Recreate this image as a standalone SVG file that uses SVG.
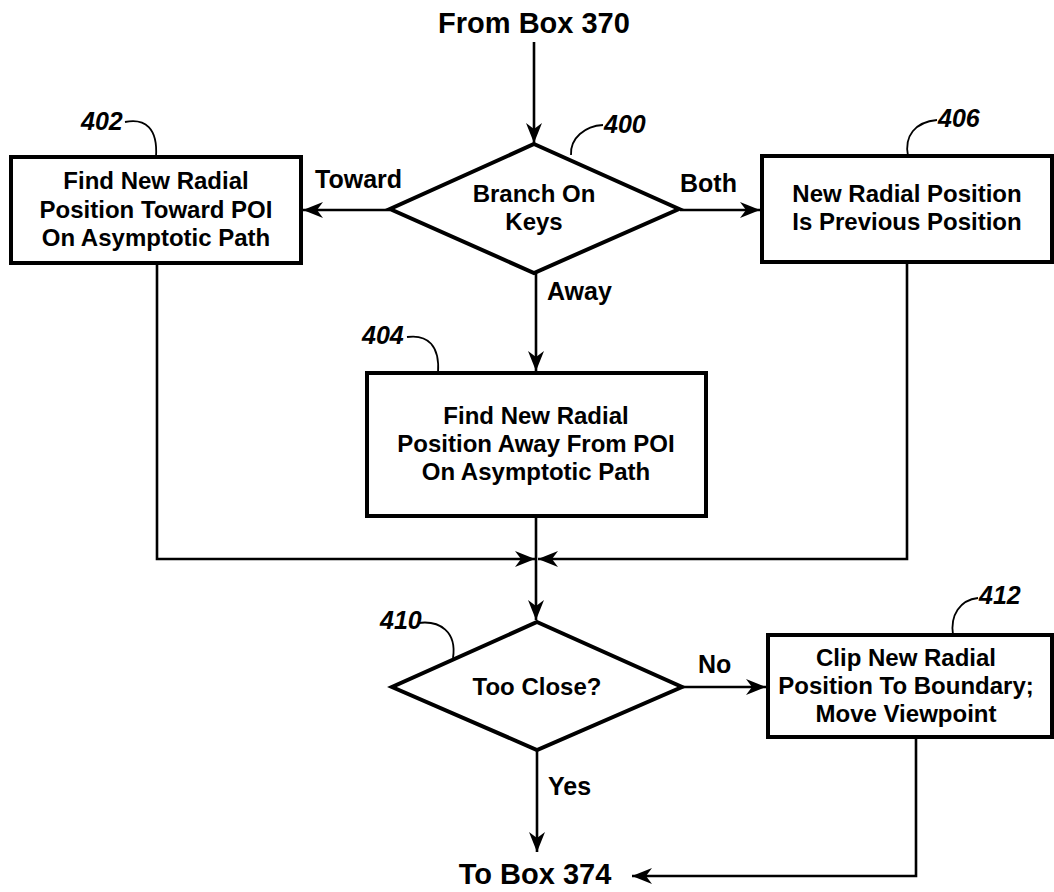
<svg xmlns="http://www.w3.org/2000/svg" width="1054" height="892" viewBox="0 0 1054 892">
<style>
.box{fill:#fff;stroke:#000;stroke-width:4}
.dia{fill:#fff;stroke:#000;stroke-width:4}
.ln{fill:none;stroke:#000;stroke-width:2.6}
.ld{fill:none;stroke:#000;stroke-width:1.8}
.t{font-family:"Liberation Sans",Arial,sans-serif;font-weight:bold;font-size:24px;text-anchor:middle;fill:#000}
.big{font-family:"Liberation Sans",Arial,sans-serif;font-weight:bold;font-size:29px;text-anchor:middle;fill:#000}
.lab{font-family:"Liberation Sans",Arial,sans-serif;font-weight:bold;font-size:25px;fill:#000}
.ref{font-family:"Liberation Sans",Arial,sans-serif;font-weight:bold;font-style:italic;font-size:25px;fill:#000}
</style>
<defs>
<marker id="ah" viewBox="0 0 20 16" refX="20" refY="8" markerWidth="20" markerHeight="16" orient="auto" markerUnits="userSpaceOnUse">
<path d="M0,0 L20,8 L0,16 L6,8 z" fill="#000"/>
</marker>
</defs>
<rect width="1054" height="892" fill="#fff"/>
<text class="big" x="534" y="33">From Box 370</text>
<text class="big" x="535" y="884">To Box 374</text>

<g id="connectors">
<line class="ln" x1="534" y1="42" x2="534" y2="143" marker-end="url(#ah)"/>
<line class="ln" x1="390" y1="210" x2="303" y2="210" marker-end="url(#ah)"/>
<line class="ln" x1="680" y1="210" x2="760" y2="210" marker-end="url(#ah)"/>
<line class="ln" x1="536" y1="273" x2="536" y2="371" marker-end="url(#ah)"/>
<polyline class="ln" points="157,263 157,559 535,559" marker-end="url(#ah)"/>
<polyline class="ln" points="907,262 907,559 538,559" marker-end="url(#ah)"/>
<line class="ln" x1="536" y1="516" x2="536" y2="620" marker-end="url(#ah)"/>
<line class="ln" x1="682" y1="687" x2="766" y2="687" marker-end="url(#ah)"/>
<line class="ln" x1="537" y1="750" x2="537" y2="852" marker-end="url(#ah)"/>
<polyline class="ln" points="916,737 916,876 632,876" marker-end="url(#ah)"/>
<text class="lab" x="315" y="188">Toward</text>
<text class="lab" x="680" y="192">Both</text>
<text class="lab" x="547" y="300">Away</text>
<text class="lab" x="698" y="673">No</text>
<text class="lab" x="548" y="795">Yes</text>
</g>

<g id="n400">
<polygon class="dia" points="534,144 679,209 534,273 390,209"/>
<text class="t" x="534" y="202">Branch On</text>
<text class="t" x="534" y="230">Keys</text>
<path class="ld" d="M571,155 C570,138 585,126 603,125"/>
<text class="ref" x="604" y="133">400</text>
</g>

<g id="n402">
<rect class="box" x="11" y="157" width="290" height="106"/>
<text class="t" x="156" y="189">Find New Radial</text>
<text class="t" x="156" y="218">Position Toward POI</text>
<text class="t" x="156" y="246">On Asymptotic Path</text>
<path class="ld" d="M125,122 C145,118 158,128 156,157"/>
<text class="ref" x="81" y="130">402</text>
</g>

<g id="n406">
<rect class="box" x="762" y="156" width="290" height="106"/>
<text class="t" x="907" y="202">New Radial Position</text>
<text class="t" x="907" y="230">Is Previous Position</text>
<path class="ld" d="M908,156 C904,136 915,122 937,120"/>
<text class="ref" x="938" y="127">406</text>
</g>

<g id="n404">
<rect class="box" x="367" y="373" width="339" height="143"/>
<text class="t" x="536" y="424">Find New Radial</text>
<text class="t" x="536" y="452">Position Away From POI</text>
<text class="t" x="536" y="480">On Asymptotic Path</text>
<path class="ld" d="M407,337 C428,334 440,346 438,373"/>
<text class="ref" x="362" y="344">404</text>
</g>

<g id="n410">
<polygon class="dia" points="537,622 682,687 537,750 392,687"/>
<text class="t" x="537" y="695">Too Close?</text>
<path class="ld" d="M418,623 C440,620 457,632 453,658"/>
<text class="ref" x="380" y="629">410</text>
</g>

<g id="n412">
<rect class="box" x="768" y="635" width="284" height="102"/>
<text class="t" x="906" y="666">Clip New Radial</text>
<text class="t" x="906" y="694">Position To Boundary;</text>
<text class="t" x="906" y="722">Move Viewpoint</text>
<path class="ld" d="M953,635 C950,615 960,600 978,598"/>
<text class="ref" x="979" y="604">412</text>
</g>
</svg>
